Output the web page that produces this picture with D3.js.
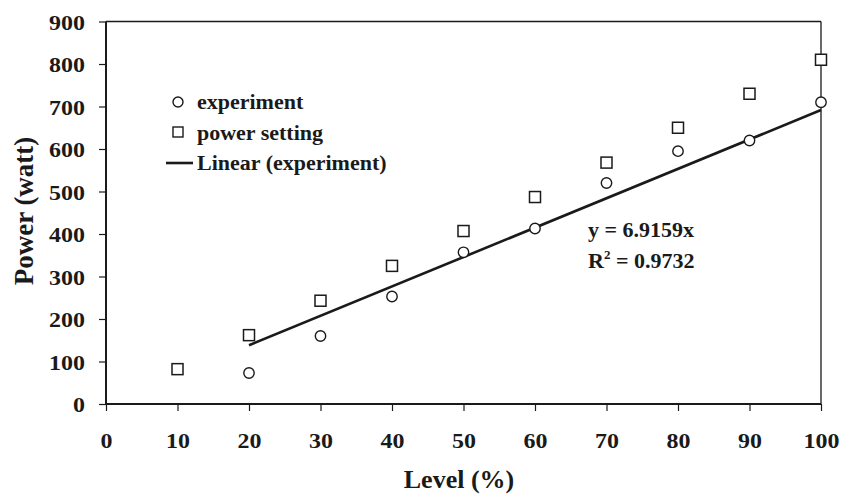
<!DOCTYPE html>
<html>
<head>
<meta charset="utf-8">
<script src="https://cdn.jsdelivr.net/npm/d3@7/dist/d3.min.js"></script>
<style>
  html, body { margin: 0; padding: 0; background: #fff; }
  svg { display: block; }
  text { font-family: "Liberation Serif", "Times New Roman", serif; font-weight: bold; fill: #1a1a1a; }
</style>
</head>
<body>
<svg id="chart" width="844" height="495"></svg>
<script>
// ---- data ----
const levels = [10, 20, 30, 40, 50, 60, 70, 80, 90, 100];
const experimentLevels = [20, 30, 40, 50, 60, 70, 80, 90, 100];
const experimentValues = [73, 160, 253, 357, 413, 520, 595, 620, 710];
const powerSettingValues = [82, 162, 243, 325, 407, 487, 568, 650, 730, 810];
const xTicks = [0, 10, 20, 30, 40, 50, 60, 70, 80, 90, 100];
const yTicks = [0, 100, 200, 300, 400, 500, 600, 700, 800, 900];
const trendSlope = 6.9159;
const trendRange = [20, 100];
const legendLabels = ["experiment", "power setting", "Linear (experiment)"];
const equationLines = ["y = 6.9159x", "0.9732"];

const ink = "#1a1a1a";
const svg = d3.select("#chart");
const mLeft = 106, mRight = 821, mTop = 21.5, mBottom = 404;
const x = d3.scaleLinear().domain([0, 100]).range([mLeft, mRight]);
const y = d3.scaleLinear().domain([0, 900]).range([mBottom, mTop]);

// frame (top & right)
svg.append("line").attr("x1", mLeft).attr("x2", mRight).attr("y1", mTop).attr("y2", mTop)
  .attr("stroke", ink).attr("stroke-width", 1.5);
svg.append("line").attr("x1", mRight).attr("x2", mRight).attr("y1", mTop).attr("y2", mBottom)
  .attr("stroke", ink).attr("stroke-width", 1.3);

function stretch(sel, sx) {
  sel.each(function() {
    const t = d3.select(this);
    const tx = +t.attr("x") || 0, ty = +t.attr("y") || 0;
    t.attr("x", 0).attr("y", 0)
     .attr("transform", `translate(${tx},${ty}) scale(${sx},1)`);
  });
}

// x axis
const xAxis = svg.append("g").attr("transform", `translate(0,${mBottom})`)
  .call(d3.axisBottom(x).tickValues(xTicks).tickSize(7).tickPadding(0).tickFormat(d3.format("d")));
xAxis.select(".domain").attr("stroke", ink).attr("stroke-width", 2).attr("d", `M${mLeft},0H${mRight}`);
xAxis.selectAll(".tick line").attr("stroke", ink).attr("stroke-width", 1.2);
xAxis.selectAll(".tick text").attr("font-size", 22).attr("dy", null).attr("y", 44)
  .style("font-family", "Liberation Serif").style("font-weight", "bold").attr("fill", ink);
stretch(xAxis.selectAll(".tick text"), 1.09);

// y axis
const yAxis = svg.append("g").attr("transform", `translate(${mLeft},0)`)
  .call(d3.axisLeft(y).tickValues(yTicks).tickSize(7).tickPadding(0).tickFormat(d3.format("d")));
yAxis.select(".domain").attr("stroke", ink).attr("stroke-width", 2).attr("d", `M0,${mTop}V${mBottom}`);
yAxis.selectAll(".tick line").attr("stroke", ink).attr("stroke-width", 1.2);
yAxis.selectAll(".tick text").attr("font-size", 22).attr("x", -21).attr("dy", null).attr("y", 7.5)
  .style("font-family", "Liberation Serif").style("font-weight", "bold").attr("fill", ink);
stretch(yAxis.selectAll(".tick text"), 1.09);

// trend line
const trend = trendRange.map(v => [v, trendSlope * v]);
svg.append("path").datum(trend)
  .attr("d", d3.line().x(d => x(d[0])).y(d => y(d[1])))
  .attr("stroke", ink).attr("stroke-width", 2.6).attr("fill", "none");

// power setting squares
const sq = 11;
svg.append("g").selectAll("rect").data(levels.map((l, i) => [l, powerSettingValues[i]]))
  .join("rect")
  .attr("x", d => x(d[0]) - sq / 2).attr("y", d => y(d[1]) - sq / 2)
  .attr("width", sq).attr("height", sq)
  .attr("fill", "#fff").attr("stroke", ink).attr("stroke-width", 1.5);

// experiment circles
svg.append("g").selectAll("circle").data(experimentLevels.map((l, i) => [l, experimentValues[i]]))
  .join("circle")
  .attr("cx", d => x(d[0])).attr("cy", d => y(d[1])).attr("r", 5.2)
  .attr("fill", "#fff").attr("stroke", ink).attr("stroke-width", 1.4);

// legend
const lg = svg.append("g");
lg.append("circle").attr("cx", 178).attr("cy", 102).attr("r", 5).attr("fill", "#fff")
  .attr("stroke", ink).attr("stroke-width", 1.4);
lg.append("rect").attr("x", 173).attr("y", 127).attr("width", 10).attr("height", 10).attr("fill", "#fff")
  .attr("stroke", ink).attr("stroke-width", 1.4);
lg.append("line").attr("x1", 166).attr("x2", 193).attr("y1", 163).attr("y2", 163)
  .attr("stroke", ink).attr("stroke-width", 2.6);
const lgText = lg.selectAll("text").data(legendLabels).join("text")
  .attr("x", 197).attr("y", (d, i) => 109 + i * 30.5).attr("font-size", 20).text(d => d);
stretch(lgText, 1.1);

// equation
const eq1 = svg.append("text").attr("x", 588).attr("y", 237).attr("font-size", 22).text(equationLines[0]);
const eq2 = svg.append("text").attr("x", 588).attr("y", 268).attr("font-size", 22);
eq2.append("tspan").text("R");
eq2.append("tspan").attr("font-size", 13).attr("dy", -9).text("2");
eq2.append("tspan").attr("dy", 9).text(" = " + equationLines[1]);

// axis titles
svg.append("text").attr("x", 459).attr("y", 488).attr("text-anchor", "middle")
  .attr("font-size", 26).text("Level (%)");
svg.append("text").attr("transform", "translate(33,211) rotate(-90)").attr("text-anchor", "middle")
  .attr("font-size", 27).text("Power (watt)");
</script>
</body>
</html>
